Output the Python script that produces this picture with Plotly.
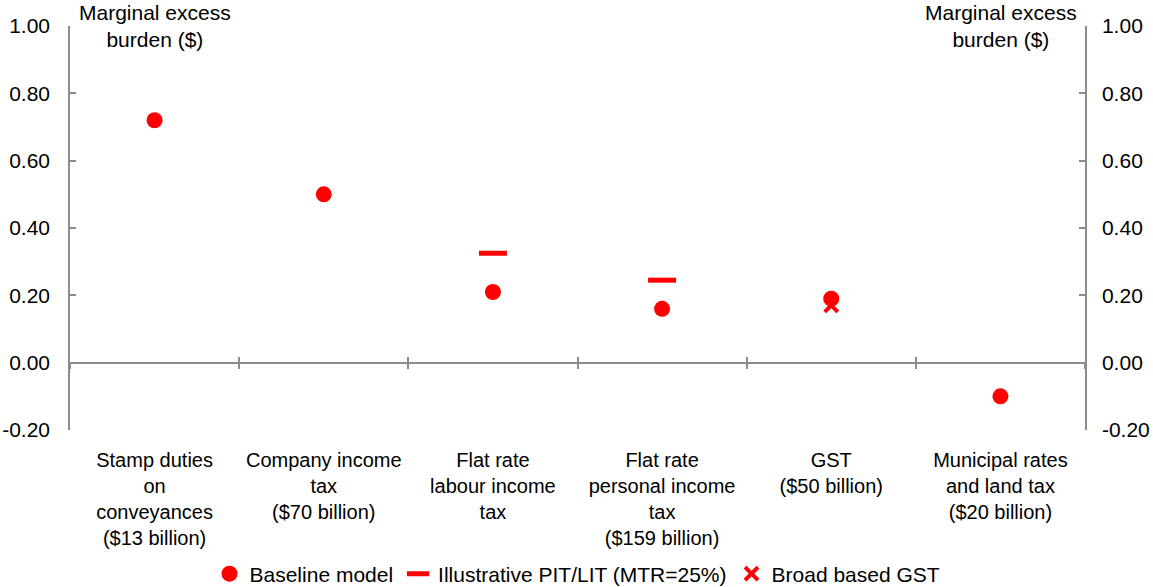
import plotly.graph_objects as go

categories = [
    "Stamp duties<br>on<br>conveyances<br>($13 billion)",
    "Company income<br>tax<br>($70 billion)",
    "Flat rate<br>labour income<br>tax",
    "Flat rate<br>personal income<br>tax<br>($159 billion)",
    "GST<br>($50 billion)",
    "Municipal rates<br>and land tax<br>($20 billion)",
]
cat_pos = [0.5, 1.5, 2.5, 3.5, 4.5, 5.5]
baseline = [0.72, 0.50, 0.21, 0.16, 0.19, -0.10]
illustrative_pos = [2.5, 3.5]
illustrative = [0.325, 0.245]
gst_pos = [4.5]
gst_broad = [0.17]
boundaries = [0, 1, 2, 3, 4, 5, 6]
ytick_vals = [-0.2, 0.0, 0.2, 0.4, 0.6, 0.8, 1.0]
ytick_text = ["-0.20", "0.00", "0.20", "0.40", "0.60", "0.80", "1.00"]

RED = "#ff0000"
GRAY = "#8c8c8c"
FONT = "Liberation Sans, Arial, sans-serif"
FS = 21

fig = go.Figure()
fig.add_trace(go.Scatter(x=cat_pos, y=baseline, mode="markers", name="Baseline model",
                         marker=dict(symbol="circle", size=16, color=RED)))
fig.add_trace(go.Scatter(x=illustrative_pos, y=illustrative, mode="markers",
                         name="Illustrative PIT/LIT (MTR=25%)",
                         marker=dict(symbol="line-ew", size=20, color=RED,
                                     line=dict(color=RED, width=5))))
fig.add_trace(go.Scatter(x=gst_pos, y=gst_broad, mode="markers", name="Broad based GST",
                         marker=dict(symbol="x-thin", size=13, color=RED,
                                     line=dict(color=RED, width=4))))
# helper invisible traces so the zero-line axes render
fig.add_trace(go.Scatter(x=[0, 6], y=[0, 0], xaxis="x2", mode="markers",
                         marker=dict(opacity=0), showlegend=False, hoverinfo="skip"))
fig.add_trace(go.Scatter(x=[0, 6], y=[0, 0], xaxis="x3", mode="markers",
                         marker=dict(opacity=0), showlegend=False, hoverinfo="skip"))
fig.add_trace(go.Scatter(x=[0, 6], y=[0, 0], yaxis="y2", mode="markers",
                         marker=dict(opacity=0), showlegend=False, hoverinfo="skip"))

zero_frac = (0 - ytick_vals[0]) / (ytick_vals[-1] - ytick_vals[0])
plot_h = 587 - 26 - 157

fig.update_layout(
    width=1153, height=587,
    margin=dict(l=70, r=68, t=26, b=157, autoexpand=False),
    paper_bgcolor="white", plot_bgcolor="white",
    font=dict(family=FONT, size=FS, color="black"),
    showlegend=True,
    legend=dict(orientation="h", x=0.5, xanchor="center", y=-(574 - 430) / plot_h,
                yanchor="middle", yref="paper", font=dict(size=FS), itemwidth=30,
                tracegroupgap=0),
    xaxis=dict(range=[0, 6], tickvals=cat_pos, ticktext=categories, automargin=False,
               showline=False, showgrid=False, zeroline=False,
               ticks="outside", ticklen=12, tickcolor="rgba(0,0,0,0)",
               tickfont=dict(size=20)),
    xaxis2=dict(range=[0, 6], overlaying="x", anchor="free", position=zero_frac,
                tickvals=boundaries, showticklabels=False, showline=True, automargin=False,
                linecolor=GRAY, linewidth=1.5, ticks="outside", ticklen=6,
                tickwidth=1.5, tickcolor=GRAY, showgrid=False, zeroline=False),
    xaxis3=dict(range=[0, 6], overlaying="x", anchor="free", position=zero_frac,
                tickvals=boundaries, showticklabels=False, showline=False, automargin=False,
                ticks="inside", ticklen=6, tickwidth=1.5, tickcolor=GRAY,
                showgrid=False, zeroline=False),
    yaxis=dict(range=[-0.2, 1.0], tickvals=ytick_vals, ticktext=ytick_text,
               showline=True, linecolor=GRAY, linewidth=1.5, ticks="inside",
               ticklen=6, tickwidth=1.5, tickcolor=GRAY, showgrid=False, automargin=False,
               zeroline=False, ticklabelstandoff=14, tickfont=dict(size=FS)),
    yaxis2=dict(range=[-0.2, 1.0], overlaying="y", side="right", tickvals=ytick_vals,
                ticktext=ytick_text, showline=True, linecolor=GRAY, linewidth=1.5,
                ticks="inside", ticklen=6, tickwidth=1.5, tickcolor=GRAY, automargin=False,
                showgrid=False, zeroline=False, ticklabelstandoff=11,
                tickfont=dict(size=FS)),
    annotations=[
        dict(text="Marginal excess<br>burden ($)", xref="paper", yref="paper",
             x=(155 - 70) / 1015, y=1 + 27 / plot_h, xanchor="center", yanchor="top",
             showarrow=False, font=dict(size=FS)),
        dict(text="Marginal excess<br>burden ($)", xref="paper", yref="paper",
             x=(1001 - 70) / 1015, y=1 + 27 / plot_h, xanchor="center", yanchor="top",
             showarrow=False, font=dict(size=FS)),
    ],
)

fig.write_html("out.html", config={"displayModeBar": False},
               post_script="document.body.style.margin='0px';document.body.style.padding='0px';")
